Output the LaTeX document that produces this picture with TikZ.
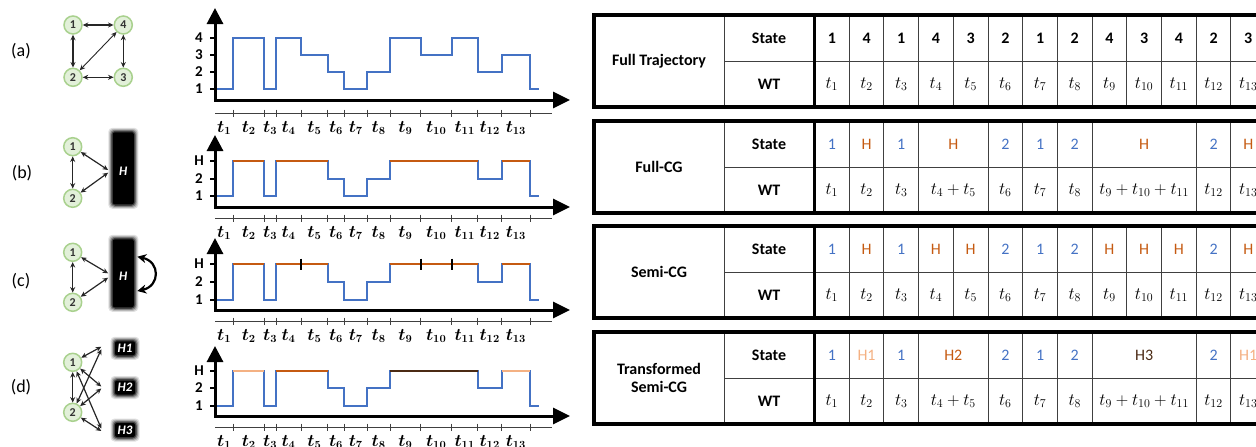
\documentclass[tikz,border=0pt]{standalone}
\usepackage{fontspec}
\setmainfont{Carlito}
\usepackage{amsmath}
\usetikzlibrary{arrows.meta}
\definecolor{sblue}{HTML}{4472C4}
\definecolor{sorange}{HTML}{C55A11}
\definecolor{slight}{HTML}{F4B183}
\definecolor{sbrown}{HTML}{4B2A14}
\definecolor{nfill}{HTML}{E2F0D9}
\definecolor{ndraw}{HTML}{A9D18E}
\newcommand{\blurbox}[4]{%
  \foreach \e/\o in {3.5/0.12,2.5/0.18,1.5/0.3,0.5/0.5}{
    \fill[black,opacity=\o,rounded corners=4pt] ({#1-#3-\e},{#2-#4-\e}) rectangle ({#1+#3+\e},{#2+#4+\e});}
  \fill[black,rounded corners=2pt] ({#1-#3+1},{#2-#4+1}) rectangle ({#1+#3-1},{#2+#4-1});
}
\newcommand{\timeaxis}[2]{%
  \draw[tickline] (215,#1) -- (552,#1);
  \foreach \x in {233.3,264.3,276,301,327.7,344.3,367.3,390,420.7,451.7,477.7,501.7,530}
    \draw[tickline] (\x,{#1-3.5}) -- (\x,{#1+3.5});
  \foreach \x/\i in {224.2/1,248.8/2,270.2/3,288.5/4,314.4/5,336/6,355.8/7,378.7/8,405.4/9,436.2/10,464.7/11,489.7/12,515.9/13}
    \node[tlbl] (#2t\i) at (\x,{#1+15}) {$\boldsymbol{t}_{\boldsymbol{\i}}$};
}
\newcommand{\cgpath}[3]{%
  \draw[steppath] (217,#1) -- (233.3,#1) -- (233.3,#3) -- (264.3,#3) -- (264.3,#1) -- (276,#1) -- (276,#3) -- (327.7,#3) -- (327.7,#2) -- (344.3,#2) -- (344.3,#1) -- (367.3,#1) -- (367.3,#2) -- (390,#2) -- (390,#3) -- (477.7,#3) -- (477.7,#2) -- (501.7,#2) -- (501.7,#3) -- (530,#3) -- (530,#1) -- (539.3,#1);
}
\newcommand{\ylevel}[3]{%
  \draw[line width=1.5pt] (210,#1) -- (215,#1);
  \node[lvl] (#3) at (199,#1) {#2};
}
\newcommand{\tableframe}[2]{%
  \draw[line width=0.9pt, black!75] (724,#1) -- (724,{#1+92});
  \draw[line width=0.9pt, black!75] (724,{#1+46}) -- (1300,{#1+46});
  \foreach \k in {#2}
    \draw[line width=0.9pt, black!75] ({814.5+\k*34.7},#1) -- ({814.5+\k*34.7},{#1+92});
  \draw[line width=3pt] (814.5,#1) -- (814.5,{#1+92});
  \draw[line width=3.5pt] (594,#1) rectangle (1300,{#1+92});
}
\begin{document}
\begin{tikzpicture}[x=1pt,y=-1pt,
  gnode/.style={circle, fill=nfill, draw=ndraw, line width=1.5pt, minimum size=18pt, inner sep=0pt, font=\fontsize{12}{12}\selectfont\bfseries, text=black!80},
  garrow/.style={{Stealth[length=5.5pt,width=5pt]}-{Stealth[length=5.5pt,width=5pt]}, line width=1.2pt, black!85},
  axisline/.style={line width=3pt, {Triangle[length=16pt,width=16pt]}-{Triangle[length=17pt,width=16pt]}},
  steppath/.style={sblue, line width=2pt},
  hseg/.style={line width=2.2pt},
  tickline/.style={line width=0.9pt, black!75},
  lvl/.style={font=\fontsize{15}{15}\selectfont\bfseries},
  tlbl/.style={font=\fontsize{16}{16}\selectfont},
  panel/.style={font=\fontsize{18}{18}\selectfont},
  hlab/.style={font=\fontsize{13}{13}\selectfont\bfseries\itshape, text=white, inner sep=0pt},
  thead/.style={font=\fontsize{16}{16}\selectfont\bfseries},
  tcell/.style={font=\fontsize{16}{16}\selectfont},
  tmath/.style={font=\fontsize{17}{17}\selectfont},
]
\useasboundingbox (0,0) rectangle (1256,447);
\clip (0,0) rectangle (1256,447);

% ---------------- panel labels
\node[panel] (la) at (21,51) {(a)};
\node[panel] (lb) at (22,173) {(b)};
\node[panel] (lc) at (21,281) {(c)};
\node[panel] (ld) at (21,387) {(d)};

% ---------------- graph (a)
\node[gnode] (a1) at (73,25) {1};
\node[gnode] (a4) at (123.3,25) {4};
\node[gnode] (a2) at (73,77.3) {2};
\node[gnode] (a3) at (123.3,77.3) {3};
\draw[garrow] (a1) -- (a4);
\draw[garrow] (a1) -- (a2);
\draw[garrow] (a4) -- (a3);
\draw[garrow] (a2) -- (a3);
\draw[garrow, line width=0.9pt] (a4) -- (a2);

% ---------------- graph (b)
\blurbox{123.3}{168.3}{11.5}{37}
\node[hlab, minimum width=30pt, minimum height=70pt] (bH) at (123.3,171.5) {H};
\node[gnode] (b1) at (72.7,146.7) {1};
\node[gnode] (b2) at (72.7,198.3) {2};
\draw[garrow] (b1) -- (b2);
\draw[garrow] (b1) -- ([yshift=1.5pt]bH.west);
\draw[garrow] (b2) -- ([yshift=-1.2pt]bH.west);

% ---------------- graph (c)
\blurbox{123.3}{273.3}{11.5}{35}
\node[hlab, minimum width=30pt, minimum height=70pt] (cH) at (123.3,276) {H};
\node[gnode] (c1) at (72.7,252.3) {1};
\node[gnode] (c2) at (72.7,302.3) {2};
\draw[garrow] (c1) -- (c2);
\draw[garrow] (c1) -- ([yshift=2.7pt]cH.west);
\draw[garrow] (c2) -- ([yshift=-1.7pt]cH.west);
\draw[line width=2.2pt, {Stealth[length=9pt,width=9pt]}-{Stealth[length=9pt,width=9pt]}]
  ([xshift=14pt,yshift=19.3pt]cH.center) .. controls +(23,5) and +(23,-5) .. ([xshift=14pt,yshift=-15pt]cH.center);

% ---------------- graph (d)
\blurbox{125}{348.3}{11}{8}
\blurbox{125}{387.5}{11}{8}
\blurbox{125}{430}{11}{8}
\node[hlab, minimum width=47pt, minimum height=20pt] (dH1) at (125,348.3) {H1};
\node[hlab, minimum width=47pt, minimum height=20pt] (dH2) at (125,387.5) {H2};
\node[hlab, minimum width=47pt, minimum height=20pt] (dH3) at (125,430) {H3};
\node[gnode] (d1) at (72.7,362.3) {1};
\node[gnode] (d2) at (72.7,412.3) {2};
\draw[garrow] (d1) -- (d2);
\draw[garrow] (d1) -- ([yshift=1.5pt]dH1.west);
\draw[garrow] (d1) -- ([yshift=1pt]dH2.west);
\draw[garrow] (d1) -- ([yshift=1.5pt]dH3.west);
\draw[garrow] (d2) -- ([yshift=-1pt]dH1.west);
\draw[garrow] (d2) -- ([yshift=-1pt]dH2.west);
\draw[garrow] (d2) -- ([yshift=-1pt]dH3.west);

% ---------------- plot (a)
\draw[axisline] (215,8) -- (215,100) -- (570,100);
\ylevel{89}{1}{pa1}\ylevel{72}{2}{pa2}\ylevel{55}{3}{pa3}\ylevel{38}{4}{pa4}
\draw[steppath] (217,89) -- (233.3,89) -- (233.3,38) -- (264.3,38) -- (264.3,89) -- (276,89) -- (276,38) -- (301,38) -- (301,55) -- (327.7,55) -- (327.7,72) -- (344.3,72) -- (344.3,89) -- (367.3,89) -- (367.3,72) -- (390,72) -- (390,38) -- (420.7,38) -- (420.7,55) -- (451.7,55) -- (451.7,38) -- (477.7,38) -- (477.7,72) -- (501.7,72) -- (501.7,55) -- (530,55) -- (530,89) -- (539.3,89);
\timeaxis{113}{pa}

% ---------------- plot (b)
\draw[axisline] (215,135) -- (215,207) -- (570,207);
\ylevel{196}{1}{pb1}\ylevel{179}{2}{pb2}\ylevel{161}{H}{pbH}
\cgpath{196}{179}{161}
\draw[hseg, sorange] (233.3,161) -- (264.3,161) (276,161) -- (327.7,161) (390,161) -- (477.7,161) (501.7,161) -- (530,161);
\timeaxis{218}{pb}

% ---------------- plot (c)
\draw[axisline] (215,238) -- (215,310) -- (570,310);
\ylevel{300}{1}{pc1}\ylevel{282}{2}{pc2}\ylevel{264}{H}{pcH}
\cgpath{300}{282}{264}
\draw[hseg, sorange] (233.3,264) -- (264.3,264) (276,264) -- (327.7,264) (390,264) -- (477.7,264) (501.7,264) -- (530,264);
\draw[line width=2pt] (301,258.5) -- (301,269.5) (420.7,258.5) -- (420.7,269.5) (451.7,258.5) -- (451.7,269.5);
\timeaxis{321}{pc}

% ---------------- plot (d)
\draw[axisline] (215,346) -- (215,416) -- (570,416);
\ylevel{406}{1}{pd1}\ylevel{388}{2}{pd2}\ylevel{371}{H}{pdH}
\cgpath{406}{388}{371}
\draw[hseg, slight] (233.3,371) -- (264.3,371) (501.7,371) -- (530,371);
\draw[hseg, sorange] (276,371) -- (327.7,371);
\draw[hseg, sbrown] (390,371) -- (477.7,371);
\timeaxis{427}{pd}

% ---------------- table 1
\tableframe{15}{1,...,13}
\node[thead] (T1n) at (659,61) {Full Trajectory};
\node[thead] (T1s) at (769,38) {State};
\node[thead] (T1w) at (769,84) {WT};
\foreach \v [count=\i] in {1,4,1,4,3,2,1,2,4,3,4,2,3}
  \node[thead] (T1s\i) at ({814.5+(\i-0.5)*34.7},38) {\v};
\foreach \i in {1,...,13}
  \node[tmath] (T1w\i) at ({814.5+(\i-0.5)*34.7},84) {$t_{\i}$};

% ---------------- table 2
\tableframe{121}{1,2,3,5,6,7,8,11,12,13}
\node[thead] (T2n) at (659,167) {Full-CG};
\node[thead] (T2s) at (769,144) {State};
\node[thead] (T2w) at (769,190) {WT};
\foreach \x/\v/\c [count=\i] in {831.85/1/sblue,866.55/H/sorange,901.25/1/sblue,953.3/H/sorange,1005.35/2/sblue,1040.05/1/sblue,1074.75/2/sblue,1144.15/H/sorange,1213.55/2/sblue,1248.25/H/sorange}
  \node[tcell, text=\c] (T2s\i) at (\x,144) {\v};
\foreach \x/\v [count=\i] in {831.85/t_1,866.55/t_2,901.25/t_3,953.3/t_4+t_5,1005.35/t_6,1040.05/t_7,1074.75/t_8,1144.15/t_9+t_{10}+t_{11},1213.55/t_{12},1248.25/t_{13}}
  \node[tmath] (T2w\i) at (\x,190) {$\v$};

% ---------------- table 3
\tableframe{226}{1,...,13}
\node[thead] (T3n) at (659,272) {Semi-CG};
\node[thead] (T3s) at (769,249) {State};
\node[thead] (T3w) at (769,295) {WT};
\foreach \v/\c [count=\i] in {1/sblue,H/sorange,1/sblue,H/sorange,H/sorange,2/sblue,1/sblue,2/sblue,H/sorange,H/sorange,H/sorange,2/sblue,H/sorange}
  \node[tcell, text=\c] (T3s\i) at ({814.5+(\i-0.5)*34.7},249) {\v};
\foreach \i in {1,...,13}
  \node[tmath] (T3w\i) at ({814.5+(\i-0.5)*34.7},295) {$t_{\i}$};

% ---------------- table 4
\tableframe{332}{1,2,3,5,6,7,8,11,12,13}
\node[thead, align=center] (T4n) at (659,378) {Transformed\\[2pt]Semi-CG};
\node[thead] (T4s) at (769,355) {State};
\node[thead] (T4w) at (769,401) {WT};
\foreach \x/\v/\c [count=\i] in {831.85/1/sblue,866.55/H1/slight,901.25/1/sblue,953.3/H2/sorange,1005.35/2/sblue,1040.05/1/sblue,1074.75/2/sblue,1144.15/H3/sbrown,1213.55/2/sblue,1248.25/H1/slight}
  \node[tcell, text=\c] (T4s\i) at (\x,355) {\v};
\foreach \x/\v [count=\i] in {831.85/t_1,866.55/t_2,901.25/t_3,953.3/t_4+t_5,1005.35/t_6,1040.05/t_7,1074.75/t_8,1144.15/t_9+t_{10}+t_{11},1213.55/t_{12},1248.25/t_{13}}
  \node[tmath] (T4w\i) at (\x,401) {$\v$};
\end{tikzpicture}
\end{document}
